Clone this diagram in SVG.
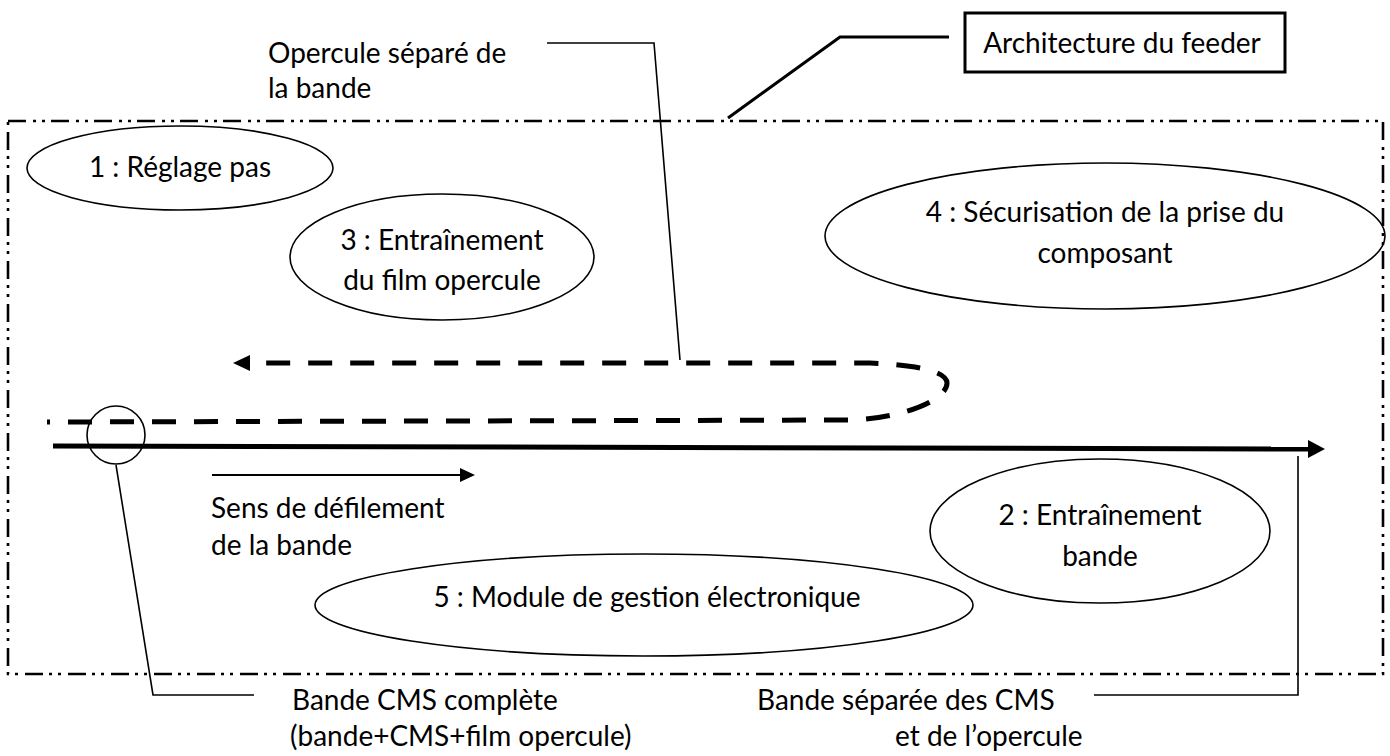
<svg xmlns="http://www.w3.org/2000/svg" width="1390" height="756" viewBox="0 0 1390 756">
<style>
text{font-family:Lato,"Open Sans","Liberation Sans",sans-serif;font-size:28px;fill:#000}
.c{text-anchor:middle}
.ell{fill:none;stroke:#000;stroke-width:1.6}
.lead{fill:none;stroke:#000;stroke-width:1.6}
</style>
<defs>
<marker id="hMain" markerUnits="userSpaceOnUse" markerWidth="20" markerHeight="20" refX="0" refY="9" orient="auto" viewBox="0 0 20 18"><path d="M0,0 L17,9 L0,18 Z" fill="#000"/></marker>
<marker id="hDash" markerUnits="userSpaceOnUse" markerWidth="20" markerHeight="18" refX="0" refY="8" orient="auto" viewBox="0 0 20 16"><path d="M0,0 L17,8 L0,16 Z" fill="#000"/></marker>
<marker id="hSmall" markerUnits="userSpaceOnUse" markerWidth="16" markerHeight="16" refX="0" refY="7" orient="auto" viewBox="0 0 16 14"><path d="M0,0 L15,7 L0,14 Z" fill="#000"/></marker>
</defs>
<g id="frame">
<rect x="8" y="121" width="1375" height="553" fill="none" stroke="#000" stroke-width="2.6" stroke-dasharray="18 7 3 6 3 6"/>
</g>
<g id="title">
<rect x="965" y="13" width="320" height="59" fill="#fff" stroke="#000" stroke-width="3"/>
<text class="c" x="1122" y="53">Architecture du feeder</text>
</g>
<g id="n1"><ellipse class="ell" cx="180" cy="168" rx="153" ry="42"/><text class="c" x="180" y="177">1 : Réglage pas</text></g>
<g id="n3"><ellipse class="ell" cx="442" cy="257" rx="152" ry="63"/><text class="c" x="442" y="250">3 : Entraînement</text><text class="c" x="442" y="290">du film opercule</text></g>
<g id="n4"><ellipse class="ell" cx="1105" cy="236" rx="280" ry="73"/><text class="c" x="1105" y="222">4 : Sécurisation de la prise du</text><text class="c" x="1105" y="263">composant</text></g>
<g id="n2"><ellipse class="ell" cx="1100" cy="531" rx="170" ry="72"/><text class="c" x="1100" y="525">2 : Entraînement</text><text class="c" x="1100" y="566">bande</text></g>
<g id="n5"><ellipse class="ell" cx="644" cy="605" rx="329" ry="51"/><text class="c" x="647" y="607">5 : Module de gestion électronique</text></g>
<g id="labels">
<text x="268" y="63">Opercule séparé de</text>
<text x="268" y="98">la bande</text>
<text x="211" y="518">Sens de défilement</text>
<text x="211" y="555">de la bande</text>
<text x="292" y="710">Bande CMS complète</text>
<text x="290" y="746">(bande+CMS+film opercule)</text>
<text x="757" y="710">Bande séparée des CMS</text>
<text x="895" y="746">et de l’opercule</text>
</g>
<g id="connectors">
<path d="M47,422 L855,420 C905,417 947,400 947,383 C947,372 920,365 870,363 L250,363" fill="none" stroke="#000" stroke-width="5" stroke-dasharray="24 18" stroke-dashoffset="21" marker-end="url(#hDash)"/>
<path d="M53,446 L1308,449" fill="none" stroke="#000" stroke-width="5" marker-end="url(#hMain)"/>
<circle cx="116" cy="435" r="29" fill="none" stroke="#000" stroke-width="1.6"/>
<path d="M212,475 L460,475" fill="none" stroke="#000" stroke-width="1.8" marker-end="url(#hSmall)"/>
<polyline class="lead" points="547,43 654,43 680,360"/>
<polyline points="949,37 840,37 728,118" fill="none" stroke="#000" stroke-width="3"/>
<polyline class="lead" points="116,465 153,695 254,695"/>
<polyline class="lead" points="1298,456 1298,695 1094,695"/>
</g>
</svg>
